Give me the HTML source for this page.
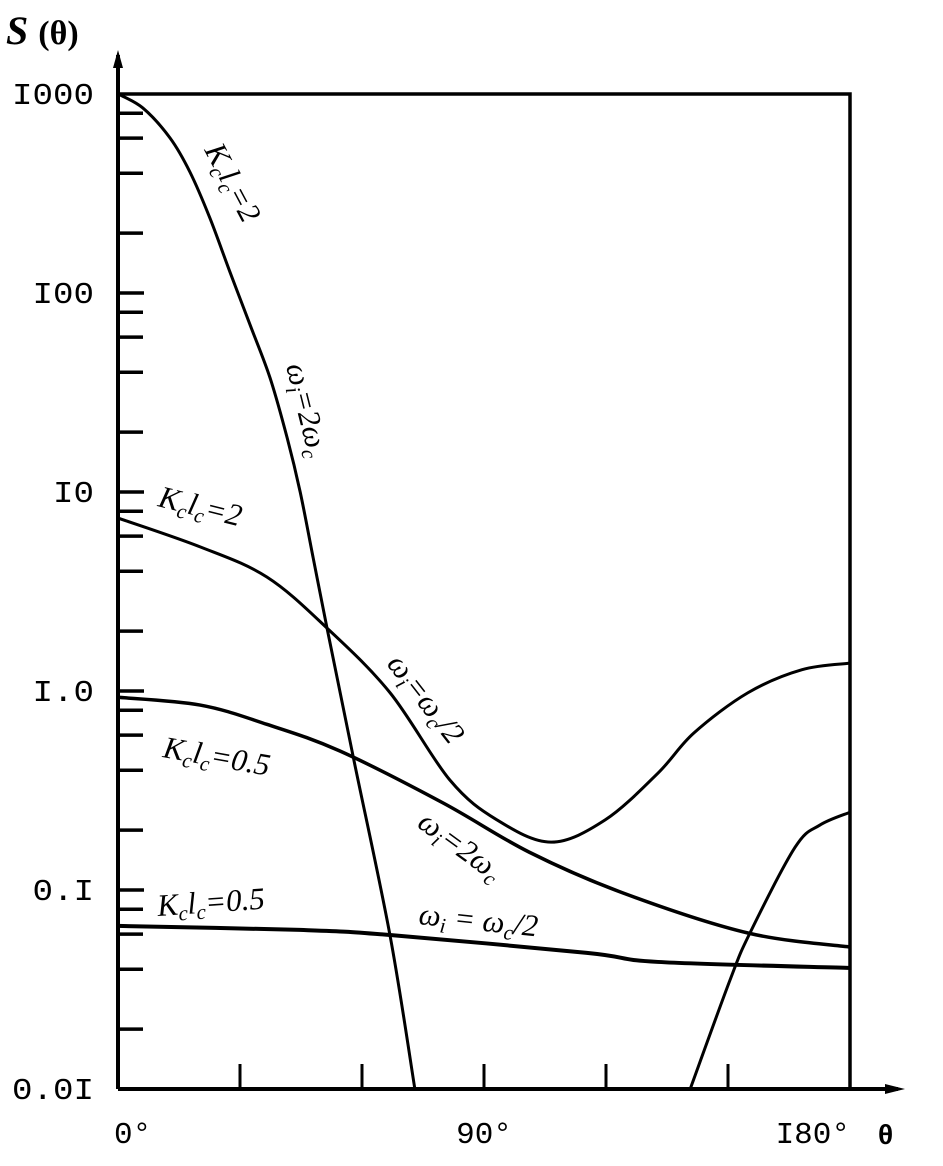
<!DOCTYPE html>
<html><head><meta charset="utf-8"><style>
html,body{margin:0;padding:0;background:#fff;}
svg{display:block;}
text{fill:#000;}
.tk{font-family:"Liberation Mono",monospace;font-size:31px;}
.lb{font-family:"Liberation Serif",serif;font-style:italic;font-size:31px;}
</style></head><body>
<svg id="chart" width="943" height="1166" viewBox="0 0 943 1166" xmlns="http://www.w3.org/2000/svg">
<text x="6" y="44" style="font-family:'Liberation Serif',serif;font-style:italic;font-weight:bold;font-size:40px">S <tspan font-style="normal" font-size="34">(θ)</tspan></text>
<g id="axes"></g>
<g id="curves"></g>
<g>
<text class="lb" transform="translate(204,150) rotate(62)">K<tspan font-size="21" dy="6">c</tspan><tspan dy="-6">l</tspan><tspan font-size="21" dy="6">c</tspan><tspan dy="-6">=2</tspan></text>
<text class="lb" transform="translate(286,366) rotate(76)">ω<tspan font-size="21" dy="6">i</tspan><tspan dy="-6">=2ω</tspan><tspan font-size="21" dy="6">c</tspan></text>
<text class="lb" transform="translate(157,506) rotate(14)">K<tspan font-size="21" dy="6">c</tspan><tspan dy="-6">l</tspan><tspan font-size="21" dy="6">c</tspan><tspan dy="-6">=2</tspan></text>
<text class="lb" transform="translate(386,664) rotate(52)">ω<tspan font-size="21" dy="6">i</tspan><tspan dy="-6">=ω</tspan><tspan font-size="21" dy="6">c</tspan><tspan dy="-6">/2</tspan></text>
<text class="lb" transform="translate(162,757) rotate(10)">K<tspan font-size="21" dy="6">c</tspan><tspan dy="-6">l</tspan><tspan font-size="21" dy="6">c</tspan><tspan dy="-6">=0.5</tspan></text>
<text class="lb" transform="translate(416,826) rotate(36)">ω<tspan font-size="21" dy="6">i</tspan><tspan dy="-6">=2ω</tspan><tspan font-size="21" dy="6">c</tspan></text>
<text class="lb" transform="translate(158,916) rotate(-4)">K<tspan font-size="21" dy="6">c</tspan><tspan dy="-6">l</tspan><tspan font-size="21" dy="6">c</tspan><tspan dy="-6">=0.5</tspan></text>
<text class="lb" transform="translate(418,924) rotate(6)">ω<tspan font-size="21" dy="6">i</tspan><tspan dy="-6"> = ω</tspan><tspan font-size="21" dy="6">c</tspan><tspan dy="-6">/2</tspan></text>
</g>
</svg>
<script>
const yTickValues = [1000, 100, 10, 1, 0.1, 0.01];
const yTickLabels = ["I000", "I00", "I0", "I.0", "0.I", "0.0I"];
const xTickValues = [30, 60, 90, 120, 150];
const xLabelValues = [0, 90, 180];
const xLabelTexts = ["0\u00B0", "90\u00B0", "I80\u00B0"];
const minorMultipliers = [2, 4, 6, 8];

const thetaA = [0, 6.1, 12.8, 17.7, 22.6, 27.5, 32.5, 37.4, 41.6, 44.8, 48.0, 51.4, 58.0, 66.9, 73.0];
const sA = [1000, 851, 601, 405, 238, 128, 69, 37.4, 18.7, 10.0, 4.66, 2.07, 0.45, 0.059, 0.01];
const thetaB = [0, 20.2, 36.6, 51.4, 66.9, 81.6, 93.2, 106.5, 119.8, 132.8, 141.6, 154.9, 168.2, 180];
const sB = [7.4, 5.3, 3.74, 2.07, 0.98, 0.357, 0.225, 0.174, 0.225, 0.387, 0.615, 0.98, 1.28, 1.38];
const thetaC = [0, 20.2, 36.6, 54.5, 79.9, 101.1, 124.2, 154.9, 180];
const sC = [0.93, 0.85, 0.68, 0.5, 0.274, 0.155, 0.0966, 0.0608, 0.0517];
const thetaD = [0, 44.8, 66.9, 115.3, 132.8, 180];
const sD = [0.066, 0.063, 0.0594, 0.0483, 0.0435, 0.0406];
const thetaE = [140.7, 150.5, 155.4, 166.5, 172.6, 180];
const sE = [0.01, 0.0353, 0.0608, 0.164, 0.212, 0.246];

const X0 = 118, X1 = 850, Y0 = 1089, DEC = 199;
function xs(t){ return X0 + t/180*(X1-X0); }
function ys(v){ return Y0 - (Math.log10(v)+2)*DEC; }
const NS = "http://www.w3.org/2000/svg";
function mk(tag, parent, attrs){ const e=document.createElementNS(NS,tag); for(const k in attrs) e.setAttribute(k, attrs[k]); parent.appendChild(e); return e; }
const axes = document.getElementById('axes');
const curves = document.getElementById('curves');

let e;
e = mk('path', axes, {d:`M${X0},${Y0} L${X0},55`, stroke:'#000','stroke-width':4, fill:'none'});


e = mk('path', axes, {d:`M${X0-5},68 L${X0},50 L${X0+5},68 Z`, fill:'#000'});


e = mk('path', axes, {d:`M${X0},${Y0} L898,${Y0}`, stroke:'#000','stroke-width':4, fill:'none'});


e = mk('path', axes, {d:`M885,${Y0-5} L905,${Y0} L885,${Y0+5} Z`, fill:'#000'});


e = mk('path', axes, {d:`M${X0},${ys(1000)} L${X1},${ys(1000)} L${X1},${Y0}`, stroke:'#000','stroke-width':3.5, fill:'none'});



yTickValues.forEach((v,i)=>{
  const y = ys(v);
  if (v > 0.01 && v < 1000) {
    const t = mk('line', axes, {x1:X0, x2:X0+26, y1:y, y2:y, stroke:'#000','stroke-width':3.5});
    
    
  }
  const lbl = mk('text', axes, {x: X0-24, y: y+10, class:'tk','text-anchor':'end', textLength: yTickLabels[i].length*20.5, lengthAdjust:'spacingAndGlyphs'});
  lbl.textContent = yTickLabels[i];
  
  
  if (v < 1000) {
    minorMultipliers.forEach(m=>{
      const my = ys(v*m);
      const t = mk('line', axes, {x1:X0, x2:X0+25, y1:my, y2:my, stroke:'#000','stroke-width':3.5});
      
      
    });
  }
});
xTickValues.forEach(t=>{
  const x = xs(t);
  const l = mk('line', axes, {x1:x, x2:x, y1:Y0, y2:Y0-25, stroke:'#000','stroke-width':3});
  
  
});
xLabelValues.forEach((t,i)=>{
  const x = xs(t) + (i===0 ? -4 : 0);
  const anchor = i===0 ? 'start' : (i===2 ? 'end' : 'middle');
  const l = mk('text', axes, {x:x, y:1143, class:'tk','text-anchor':anchor});
  l.textContent = xLabelTexts[i];
  
  
});
e = mk('text', axes, {x:878, y:1144, style:"font-family:'Liberation Sans',sans-serif;font-weight:bold;font-size:28px"});
e.textContent = 'θ';



function smoothPath(th, sv){
  const p = th.map((t,i)=>[xs(t), ys(sv[i])]);
  let d = `M${p[0][0]},${p[0][1]}`;
  for (let i=0;i<p.length-1;i++){
    const p0=p[Math.max(0,i-1)], p1=p[i], p2=p[i+1], p3=p[Math.min(p.length-1,i+2)];
    const c1=[p1[0]+(p2[0]-p0[0])/6, p1[1]+(p2[1]-p0[1])/6];
    const c2=[p2[0]-(p3[0]-p1[0])/6, p2[1]-(p3[1]-p1[1])/6];
    d += ` C${c1[0]},${c1[1]} ${c2[0]},${c2[1]} ${p2[0]},${p2[1]}`;
  }
  return d;
}
let c;
c = mk('path', curves, {d:smoothPath(thetaA,sA), stroke:'#000','stroke-width':3, fill:'none'});


c = mk('path', curves, {d:smoothPath(thetaB,sB), stroke:'#000','stroke-width':3, fill:'none'});


c = mk('path', curves, {d:smoothPath(thetaC,sC), stroke:'#000','stroke-width':3.5, fill:'none'});


c = mk('path', curves, {d:smoothPath(thetaD,sD), stroke:'#000','stroke-width':4, fill:'none'});


c = mk('path', curves, {d:smoothPath(thetaE,sE), stroke:'#000','stroke-width':3, fill:'none'});


</script>
</body></html>
